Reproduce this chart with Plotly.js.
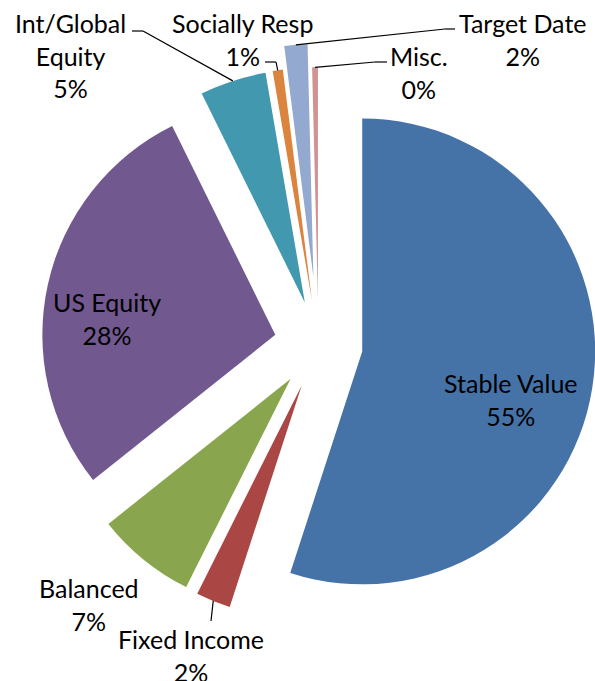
<!DOCTYPE html>
<html>
<head>
<meta charset="utf-8">
<script src="https://cdn.plot.ly/plotly-3.0.1.min.js"></script>
<style>
  html, body { margin: 0; padding: 0; overflow: hidden; background: #ffffff; width: 595px; height: 681px; }
  #chart { width: 637px; height: 681px; }
</style>
</head>
<body>
<div id="chart"></div>
<script>
// ---- data ----
const categories = ["Stable Value", "Fixed Income", "Balanced", "US Equity", "Int/Global Equity", "Socially Resp", "Target Date", "Misc."];
const labelLines = ["Stable Value", "Fixed Income", "Balanced", "US Equity", "Int/Global<br>Equity", "Socially Resp", "Target Date", "Misc."];
const values = [55.0, 2.4, 6.9, 28.4, 4.6, 0.7, 1.6, 0.4];

// ---- style ----
const colors = ["#4572A7", "#AA4643", "#89A54E", "#71588F", "#4198AF", "#DB843D", "#93A9CF", "#D19392"];
const pulls = [0.19, 0.19, 0.19, 0.19, 0.19, 0.19, 0.29, 0.19];
const FONT = { family: "Lato, 'Open Sans', sans-serif", size: 25, color: "#000000" };

// ---- layout geometry (pixels) ----
const FIG_W = 637, FIG_H = 681;
const PIE_TOP = 44, PIE_BOTTOM = 645;

// label block centres (px) and leader-line anchor points (px), per category index
const labelPos = {
  0: { x: 511, y: 399 },
  1: { x: 191, y: 655, leader: [[211, 621]] },
  2: { x: 89,  y: 604 },
  3: { x: 107, y: 318 },
  4: { x: 70,  y: 56,  leader: [[132, 31], [143, 31]] },
  5: { x: 242, y: 39,  leader: [[265, 62], [276, 62]] },
  6: { x: 522, y: 39,  leader: [[455, 29], [445, 29]] },
  7: { x: 419, y: 72,  leader: [[387, 62], [375, 62]] }
};

const total = values.reduce((a, b) => a + b, 0);
const pctText = values.map(v => Math.round(v / total * 100) + "%");

// pie geometry mirroring plotly's pie sizing
const boxW = FIG_W, boxH = PIE_BOTTOM - PIE_TOP;
const maxPull = Math.max(...pulls);
const R = Math.min(boxW, boxH) / (2 + 2 * maxPull);
const CX = FIG_W / 2, CY = (PIE_TOP + PIE_BOTTOM) / 2;

function outerMid(i) {
  let cum = 0;
  for (let k = 0; k < i; k++) cum += values[k];
  const a = 2 * Math.PI * (cum + values[i] / 2) / total;
  const rr = R * (1 + pulls[i]);
  return [CX + rr * Math.sin(a), CY - rr * Math.cos(a)];
}
const px2x = x => x / FIG_W;
const px2y = y => 1 - y / FIG_H;

const annotations = [];
const shapes = [];
categories.forEach((c, i) => {
  const p = labelPos[i];
  annotations.push({
    xref: "paper", yref: "paper", x: px2x(p.x), y: px2y(p.y),
    xanchor: "center", yanchor: "middle", align: "center",
    text: labelLines[i] + "<br>" + pctText[i],
    showarrow: false, font: FONT
  });
  if (p.leader) {
    const pts = p.leader.concat([outerMid(i)]);
    for (let k = 0; k < pts.length - 1; k++) {
      shapes.push({
        type: "line", xref: "paper", yref: "paper",
        x0: px2x(pts[k][0]), y0: px2y(pts[k][1]),
        x1: px2x(pts[k + 1][0]), y1: px2y(pts[k + 1][1]),
        line: { color: "#000000", width: 1.2 }
      });
    }
  }
});

const trace = {
  type: "pie",
  labels: categories,
  values: values,
  sort: false,
  direction: "clockwise",
  rotation: 0,
  pull: pulls,
  marker: { colors: colors, line: { width: 0 } },
  textinfo: "none",
  hoverinfo: "label+percent",
  showlegend: false,
  domain: { x: [0, 1], y: [1 - PIE_BOTTOM / FIG_H, 1 - PIE_TOP / FIG_H] }
};

const layout = {
  width: FIG_W, height: FIG_H, autosize: false,
  margin: { l: 0, r: 0, t: 0, b: 0 },
  paper_bgcolor: "#ffffff", plot_bgcolor: "#ffffff",
  showlegend: false,
  font: FONT,
  annotations: annotations,
  shapes: shapes
};

Plotly.newPlot("chart", [trace], layout, { displayModeBar: false, staticPlot: true });
</script>
</body>
</html>
